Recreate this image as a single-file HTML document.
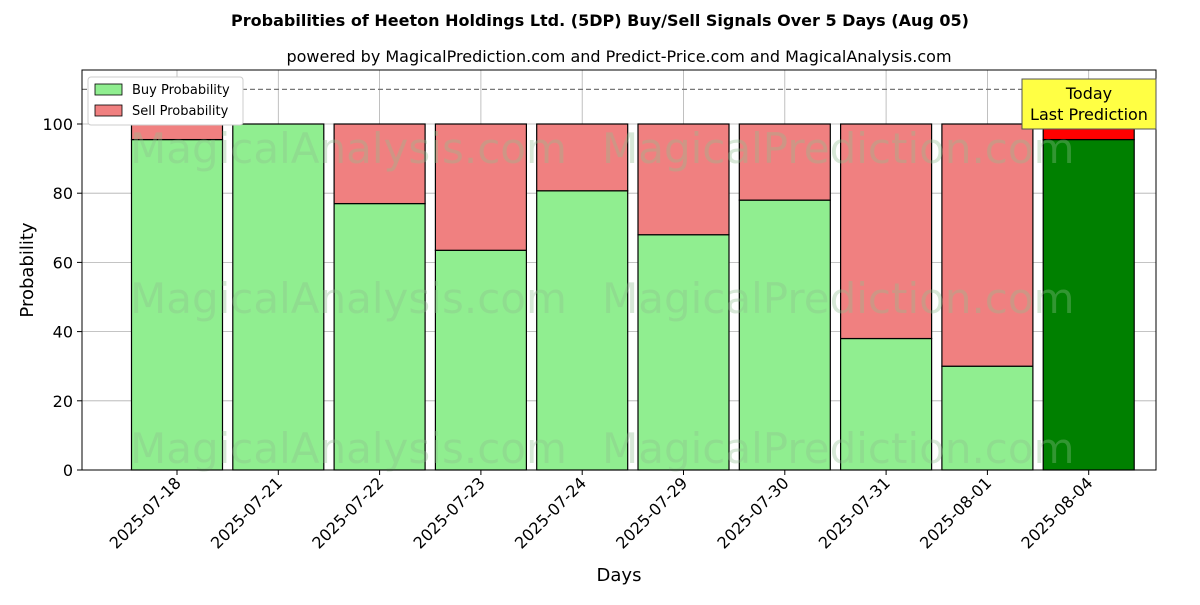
<!DOCTYPE html>
<html><head><meta charset="utf-8"><style>
body{margin:0;background:#fff;font-family:"Liberation Sans","DejaVu Sans",sans-serif;}
</style></head><body>
<svg id="chart" width="1200" height="600" xmlns="http://www.w3.org/2000/svg" font-family="DejaVu Sans, Liberation Sans, sans-serif">
<text x="600" y="26" text-anchor="middle" font-size="16" font-weight="bold">Probabilities of Heeton Holdings Ltd. (5DP) Buy/Sell Signals Over 5 Days (Aug 05)</text>
<text x="619" y="62" text-anchor="middle" font-size="16">powered by MagicalPrediction.com and Predict-Price.com and MagicalAnalysis.com</text>
<g id="grid"></g>
<g id="bars"></g>
<g id="watermarks" fill="#8fbf8f" opacity="0.35" font-size="42">
<text x="130" y="163">MagicalAnalysis.com</text>
<text x="602" y="163">MagicalPrediction.com</text>
<text x="130" y="313">MagicalAnalysis.com</text>
<text x="602" y="313">MagicalPrediction.com</text>
<text x="130" y="463">MagicalAnalysis.com</text>
<text x="602" y="463">MagicalPrediction.com</text>
</g>
<line x1="82" y1="89.4" x2="1156" y2="89.4" stroke="#777" stroke-width="1.2" stroke-dasharray="5,3"/>
<rect x="82" y="70" width="1074" height="400" fill="none" stroke="#000" stroke-width="1"/>
<g id="ticks"></g>
<text x="33" y="270" text-anchor="middle" font-size="18" transform="rotate(-90 33 270)">Probability</text>
<text x="619" y="581" text-anchor="middle" font-size="18">Days</text>
<g>
<rect x="88" y="77" width="155" height="48" fill="#fff" stroke="#ccc" rx="3"/>
<rect x="95" y="84" width="27" height="11" fill="#90ee90" stroke="#000" stroke-width="0.8"/>
<text x="132" y="94" font-size="13">Buy Probability</text>
<rect x="95" y="105" width="27" height="11" fill="#f08080" stroke="#000" stroke-width="0.8"/>
<text x="132" y="115" font-size="13">Sell Probability</text>
</g>
<g>
<rect x="1022" y="79" width="134" height="50" fill="#ffff44" stroke="#555" stroke-width="1"/>
<text x="1089" y="99" text-anchor="middle" font-size="16">Today</text>
<text x="1089" y="120" text-anchor="middle" font-size="16">Last Prediction</text>
</g>
</svg>
<script>
const categories=["2025-07-18","2025-07-21","2025-07-22","2025-07-23","2025-07-24","2025-07-29","2025-07-30","2025-07-31","2025-08-01","2025-08-04"];
const buyValues=[95.5,100,77,63.5,80.7,68,78,38,30,95.5];
const sellValues=[4.5,0,23,36.5,19.3,32,22,62,70,4.5];
const yTicks=[0,20,40,60,80,100];
const NS="http://www.w3.org/2000/svg";
const xs=i=>177+i*101.3;
const ys=v=>470-v*3.46;
const bw=91;
function mk(tag,attrs,parent){const e=document.createElementNS(NS,tag);for(const k in attrs)e.setAttribute(k,attrs[k]);parent.appendChild(e);return e;}
const grid=document.getElementById('grid'),bars=document.getElementById('bars'),ticks=document.getElementById('ticks');
yTicks.forEach(t=>{
 const g=mk('line',{x1:82,x2:1156,y1:ys(t),y2:ys(t),stroke:'#b0b0b0','stroke-width':0.8},grid);
 
 
 const tk=mk('line',{x1:77,x2:82,y1:ys(t),y2:ys(t),stroke:'#000'},ticks);
 
 
 const lb=mk('text',{x:73,y:ys(t)+6,'text-anchor':'end','font-size':16},ticks);
 lb.textContent=t;
 
 
});
categories.forEach((c,i)=>{
 const x=xs(i);
 const g=mk('line',{x1:x,x2:x,y1:70,y2:470,stroke:'#b0b0b0','stroke-width':0.8},grid);
 
 
 const last=i===categories.length-1;
 const b=mk('rect',{x:x-bw/2,y:ys(buyValues[i]),width:bw,height:ys(0)-ys(buyValues[i]),fill:last?'#008000':'#90ee90',stroke:'#000','stroke-width':1.2},bars);
 
 
 const s=mk('rect',{x:x-bw/2,y:ys(buyValues[i]+sellValues[i]),width:bw,height:ys(buyValues[i])-ys(buyValues[i]+sellValues[i]),fill:last?'#ff0000':'#f08080',stroke:'#000','stroke-width':1.2},bars);
 
 
 const tk=mk('line',{x1:x,x2:x,y1:470,y2:475,stroke:'#000'},ticks);
 
 
 const lb=mk('text',{x:x+5,y:484,'text-anchor':'end','font-size':16,transform:`rotate(-45 ${x+5} 484)`},ticks);
 lb.textContent=c;
 
 
});
</script>
</body></html>
